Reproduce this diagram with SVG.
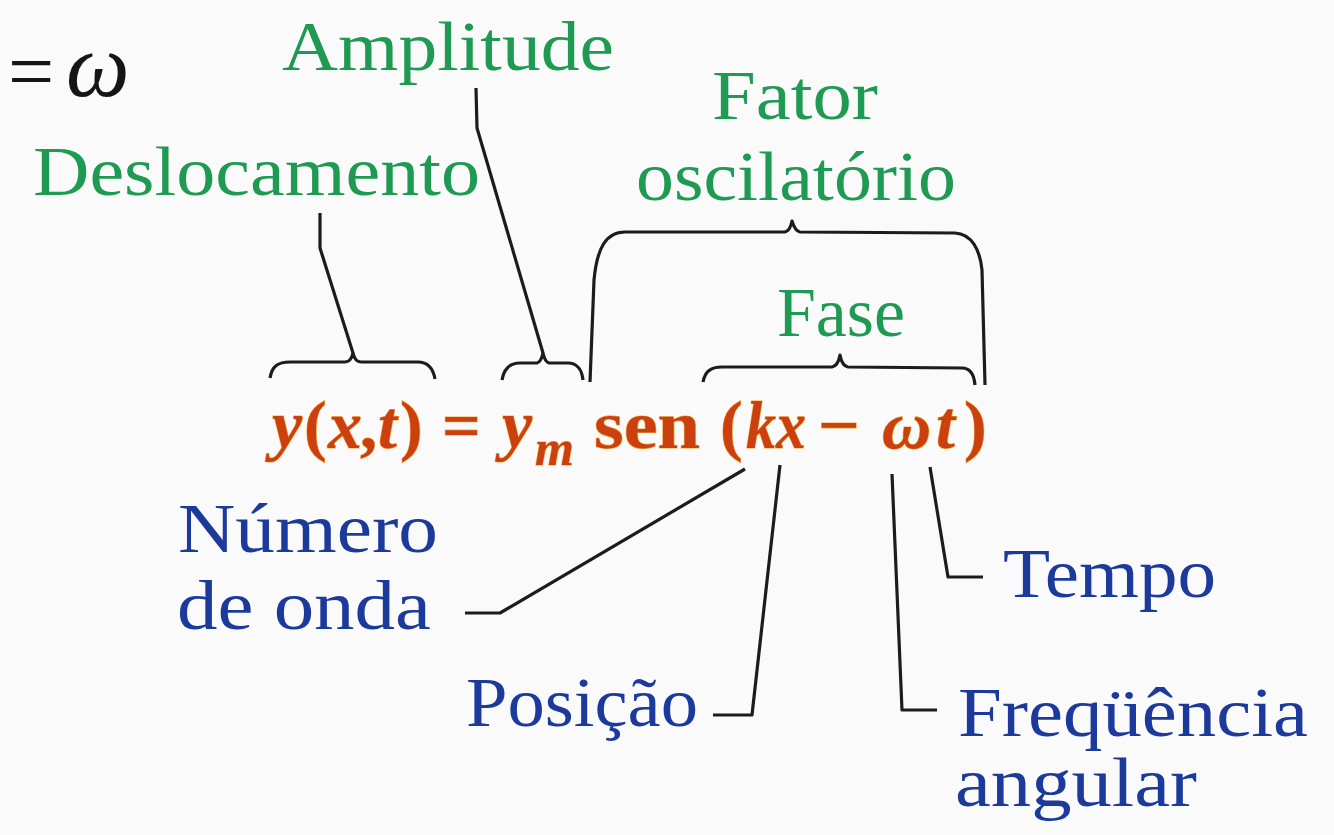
<svg xmlns="http://www.w3.org/2000/svg" width="1334" height="835" viewBox="0 0 1334 835">
<style>
.g{fill:#1f9a52;font-family:"Liberation Serif","Times New Roman",serif;font-size:70px}
.b{fill:#1b3a9c;font-family:"Liberation Serif","Times New Roman",serif;font-size:70px}
.eq{fill:#cc3f0e;font-family:"Liberation Serif","Times New Roman",serif;font-size:68px;font-weight:bold;stroke:#f2b04a;stroke-width:1.2px;paint-order:stroke}
.i{font-style:italic}
.ln{fill:none;stroke:#1c1c1c;stroke-width:3.2;stroke-linejoin:round;stroke-linecap:butt}
.k{font-family:"Liberation Serif","Times New Roman",serif;fill:#151515}
</style>
<rect width="1334" height="835" fill="#fafafa"/>
<g id="omega-fragment">
<text class="k" x="8" y="99" style="font-size:82px">=</text>
<text class="k" x="66" y="96" style="font-size:90px;font-style:italic">ω</text>
</g>
<g id="amplitude"><text class="g" x="282" y="70" textLength="332" lengthAdjust="spacingAndGlyphs">Amplitude</text></g>
<g id="deslocamento"><text class="g" x="33" y="195" textLength="447" lengthAdjust="spacingAndGlyphs">Deslocamento</text></g>
<g id="fator-oscilatorio">
<text class="g" x="712" y="119" textLength="166" lengthAdjust="spacingAndGlyphs">Fator</text>
<text class="g" x="636" y="200" textLength="320" lengthAdjust="spacingAndGlyphs">oscilatório</text>
</g>
<g id="fase"><text class="g" x="777" y="336" textLength="128" lengthAdjust="spacingAndGlyphs">Fase</text></g>
<g id="equacao">
<text class="eq" y="448"><tspan class="i" x="272">y</tspan><tspan x="304">(</tspan><tspan class="i" x="328">x</tspan><tspan x="360">,</tspan><tspan class="i" x="378">t</tspan><tspan x="400">)</tspan><tspan x="442">=</tspan><tspan class="i" x="502">y</tspan></text>
<text class="eq i" x="535" y="465" style="font-size:50px">m</text>
<text class="eq" y="448"><tspan x="594" textLength="106" lengthAdjust="spacingAndGlyphs">sen</tspan><tspan x="720">(</tspan><tspan class="i" x="746" textLength="60" lengthAdjust="spacingAndGlyphs">kx</tspan><tspan x="818" textLength="42" lengthAdjust="spacingAndGlyphs">−</tspan><tspan class="i" x="882">ω</tspan><tspan class="i" x="936">t</tspan><tspan x="964">)</tspan></text>
</g>
<g id="numero-de-onda">
<text class="b" x="178" y="552" textLength="260" lengthAdjust="spacingAndGlyphs">Número</text>
<text class="b" x="177" y="629" textLength="254" lengthAdjust="spacingAndGlyphs">de onda</text>
</g>
<g id="posicao"><text class="b" x="466" y="726" textLength="232" lengthAdjust="spacingAndGlyphs">Posição</text></g>
<g id="tempo"><text class="b" x="1003" y="597" textLength="213" lengthAdjust="spacingAndGlyphs">Tempo</text></g>
<g id="frequencia-angular">
<text class="b" x="958" y="736" textLength="350" lengthAdjust="spacingAndGlyphs">Freqüência</text>
<text class="b" x="955" y="806" textLength="242" lengthAdjust="spacingAndGlyphs">angular</text>
</g>
<g id="connectors">
<path class="ln" d="M270,378 C272,366 278,362 290,362 L345,362 Q351,362 353,353 Q355,362 361,362 L418,362 C428,362 433,368 435,379"/>
<path class="ln" d="M502,380 C504,368 510,363 520,363 L537,363 Q541,362 543,353 Q545,362 549,363 L568,363 C577,363 582,370 583,380"/>
<path class="ln" d="M590,382 L594,280 C597,248 606,232 625,232 L785,232 Q790,231 792,221 Q795,231 800,232 L955,233 C972,234 980,250 982,270 L985,385"/>
<path class="ln" d="M703,382 C705,372 710,367 722,367 L832,367 Q838,366 840,355 Q842,366 848,367 L962,368 C970,368 974,374 975,385"/>
<path class="ln" d="M320,213 L320,248 L353,353"/>
<path class="ln" d="M476,88 L477,128 L543,353"/>
<path class="ln" d="M465,613 L500,613 L745,469"/>
<path class="ln" d="M713,715 L752,715 L780,465"/>
<path class="ln" d="M892,474 L902,710 L937,710"/>
<path class="ln" d="M930,467 L948,577 L983,577"/>
</g>
</svg>
